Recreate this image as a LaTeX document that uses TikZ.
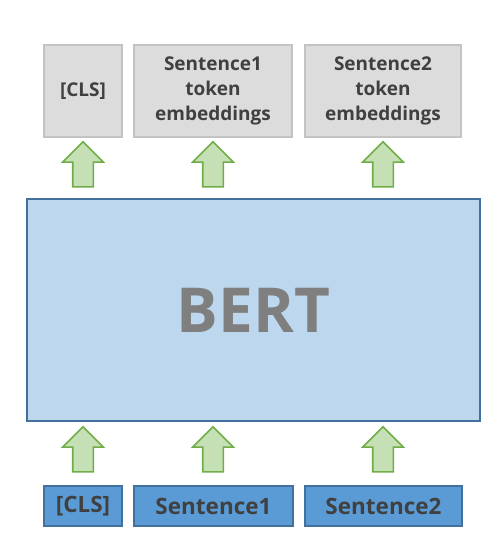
\documentclass[tikz,border=0pt]{standalone}
\usepackage{fontspec}
\setmainfont{Open Sans}
\usetikzlibrary{positioning,shapes.arrows}
\definecolor{embfill}{HTML}{DCDCDC}
\definecolor{embline}{HTML}{C3C3C3}
\definecolor{infill}{HTML}{5B9BD5}
\definecolor{bluline}{HTML}{41719C}
\definecolor{bertfill}{HTML}{BDD7EE}
\definecolor{arrfill}{HTML}{C5E0B4}
\definecolor{arrline}{HTML}{70AD47}
\definecolor{txt}{HTML}{404040}
\definecolor{berttxt}{HTML}{7F7F7F}
\tikzset{x=1pt, y=1pt}
\tikzset{emb/.style={draw=embline,fill=embfill,line width=2pt,rectangle,align=center,
    minimum height=92pt,text=txt,font=\fontsize{19}{25}\selectfont\bfseries}}
\tikzset{inp/.style={draw=bluline,fill=infill,line width=2pt,rectangle,
    minimum height=40pt,text=txt,font=\fontsize{22.5}{26}\selectfont\bfseries}}
\tikzset{up/.style={single arrow,draw=arrline,fill=arrfill,line width=1.6pt,rotate=90,
    minimum height=45pt,minimum width=0pt,inner xsep=0pt,inner ysep=9.5pt,
    single arrow head extend=10pt,single arrow head indent=0pt}}

\begin{document}
\begin{tikzpicture}
        \useasboundingbox (0,0) rectangle (501,557);
        % model
        \node (bert) [draw=bluline,fill=bertfill,line width=2pt,minimum width=453pt,minimum height=222pt,
            text=berttxt,font=\fontsize{62}{70}\selectfont\bfseries] at (253.5,247) {BERT};
        % inputs
        \node (in0) [inp,minimum width=78pt] at (83,51) {[CLS]};
        \node (in1) [inp,minimum width=159pt] at (213.5,51) {Sentence1};
        \node (in2) [inp,minimum width=157pt] at (383.5,51) {Sentence2};
        % outputs
        \node (out0) [emb,minimum width=78pt] at (83,466) {[CLS]};
        \node (out1) [emb,minimum width=158pt] at (213,466) {Sentence1\\token\\embeddings};
        \node (out2) [emb,minimum width=156pt] at (383,466) {Sentence2\\token\\embeddings};
        % arrows
        \node (a0) [up] at (83,102.5) {};
        \node (a1) [up] at (213,102.5) {};
        \node (a2) [up] at (383,102.5) {};
        \node (b0) [up] at (83,387.5) {};
        \node (b1) [up] at (213,387.5) {};
        \node (b2) [up] at (383,387.5) {};
\end{tikzpicture}
\end{document}
